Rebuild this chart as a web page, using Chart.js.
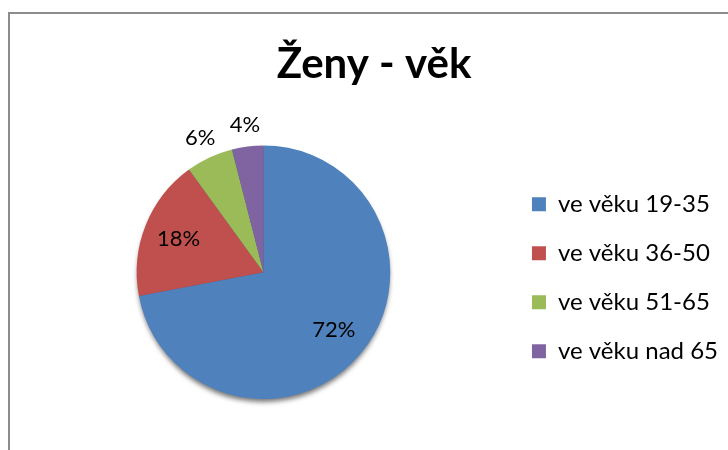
<!DOCTYPE html>
<html>
<head>
<meta charset="utf-8">
<script src="https://cdn.jsdelivr.net/npm/chart.js@4"></script>
<style>
  html, body { margin: 0; padding: 0; background: #fff; }
  #wrap { position: relative; width: 728px; height: 450px; overflow: hidden; }
  #frame {
    position: absolute; left: 8px; top: 12px; width: 740px; height: 460px;
    border-left: 2px solid #8c8c8c; border-top: 2px solid #8c8c8c;
  }
  canvas { position: absolute; left: 0; top: 0; }
</style>
</head>
<body>
<div id="wrap">
  <div id="frame"></div>
  <canvas id="pieChart" width="728" height="450"></canvas>
</div>
<script>
// ---- data ----
const titleText = 'Ženy - věk';
const categories = ['ve věku 19-35', 've věku 36-50', 've věku 51-65', 've věku nad 65'];
const values = [72, 18, 6, 4];
const colors = ['#4F81BD', '#C0504D', '#9BBB59', '#8064A2'];
// labels drawn inside the slice or outside it
const labelOutside = [false, false, true, true];

const FONT = 'Lato, "Open Sans", sans-serif';

// soft shadow under the whole pie (3D-ish look)
const pieShadow = {
    id: 'pieShadow',
    beforeDatasetsDraw(chart) {
        const arc = chart.getDatasetMeta(0).data[0];
        if (!arc) return;
        const ctx = chart.ctx;
        ctx.save();
        ctx.shadowColor = 'rgba(0,0,0,0.55)';
        ctx.shadowBlur = 5;
        ctx.shadowOffsetY = 4;
        ctx.fillStyle = '#3a5f8c';
        ctx.beginPath();
        ctx.arc(arc.x, arc.y, arc.outerRadius - 1, 0, Math.PI * 2);
        ctx.fill();
        ctx.restore();
    }
};

// percentage labels
const sliceLabels = {
    id: 'sliceLabels',
    afterDatasetsDraw(chart) {
        const ctx = chart.ctx;
        const total = values.reduce((a, b) => a + b, 0);
        ctx.save();
        ctx.font = '22px ' + FONT;
        ctx.fillStyle = '#000';
        ctx.textAlign = 'center';
        ctx.textBaseline = 'middle';
        chart.getDatasetMeta(0).data.forEach((arc, i) => {
            const mid = (arc.startAngle + arc.endAngle) / 2;
            const r = labelOutside[i] ? arc.outerRadius + 22 : arc.outerRadius * 0.72;
            const x = arc.x + Math.cos(mid) * r;
            const y = arc.y + Math.sin(mid) * r;
            ctx.fillText(Math.round(values[i] / total * 100) + '%', x, y);
        });
        ctx.restore();
    }
};

new Chart(document.getElementById('pieChart'), {
    type: 'pie',
    data: {
        labels: categories,
        datasets: [{
            data: values,
            backgroundColor: colors,
            borderWidth: 0
        }]
    },
    options: {
        responsive: false,
        animation: false,
        layout: {
            padding: { top: 0, left: 20, right: 0, bottom: 51 }
        },
        plugins: {
            title: {
                display: true,
                text: titleText,
                color: '#000',
                font: { family: FONT, size: 42, weight: 'bold' },
                padding: { top: 39, bottom: 56 }
            },
            legend: {
                position: 'right',
                fullSize: false,
                // empty title only used to push the items a bit lower
                title: { display: true, text: '', font: { size: 1 }, padding: { top: 10, bottom: 0 } },
                labels: {
                    color: '#000',
                    font: { family: FONT, size: 24 },
                    boxWidth: 14,
                    boxHeight: 14,
                    padding: 25
                }
            },
            tooltip: { enabled: false }
        }
    },
    plugins: [pieShadow, sliceLabels]
});
</script>
</body>
</html>
